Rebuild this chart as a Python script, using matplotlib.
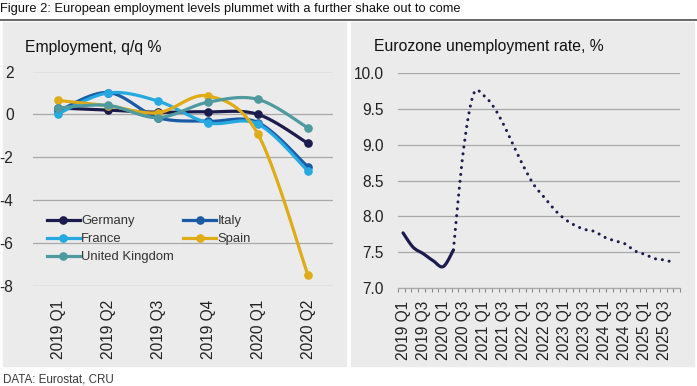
import numpy as np
import matplotlib
matplotlib.use("Agg")
import matplotlib.pyplot as plt
from matplotlib.patches import Rectangle
from matplotlib.lines import Line2D
from matplotlib.ticker import FixedLocator

plt.rcParams["font.family"] = ["Liberation Sans", "DejaVu Sans"]
plt.rcParams["axes.unicode_minus"] = False

# left chart: employment, q/q %
quarters = ["2019 Q1", "2019 Q2", "2019 Q3", "2019 Q4", "2020 Q1", "2020 Q2"]
germany = [0.30, 0.20, 0.10, 0.12, 0.00, -1.35]
italy = [0.15, 1.02, -0.15, -0.32, -0.38, -2.45]
france = [0.03, 1.00, 0.62, -0.39, -0.45, -2.64]
spain = [0.65, 0.40, 0.08, 0.86, -0.93, -7.50]
uk = [0.30, 0.42, -0.15, 0.57, 0.70, -0.63]

# right chart: eurozone unemployment rate, %
ez_quarters = [f"{y} Q{q}" for y in range(2019, 2026) for q in range(1, 5)]
ez_actual = [7.77, 7.57, 7.48, 7.38, 7.30, 7.53]
ez_forecast = [7.53, 8.93, 9.71, 9.69, 9.53, 9.28, 8.98, 8.69, 8.44, 8.27,
               8.10, 7.97, 7.88, 7.82, 7.79, 7.71, 7.66, 7.62, 7.52, 7.47,
               7.41, 7.39, 7.35]

series = [("Germany", germany, "#1c1b4d"), ("Italy", italy, "#1a5ba6"),
          ("France", france, "#25a9e0"), ("Spain", spain, "#dfab17"),
          ("United Kingdom", uk, "#4e9a9f")]


def smooth(x, y, n=24):
    # excel style smoothed line (bezier through the points)
    x = np.asarray(x, float)
    y = np.asarray(y, float)
    px = np.r_[x[0], x, x[-1]]
    py = np.r_[y[0], y, y[-1]]
    t = np.linspace(0, 1, n)[:, None]
    out = []
    for i in range(len(x) - 1):
        p0 = np.array([px[i], py[i]])
        p1 = np.array([px[i + 1], py[i + 1]])
        p2 = np.array([px[i + 2], py[i + 2]])
        p3 = np.array([px[i + 3], py[i + 3]])
        c1 = p1 + (p2 - p0) / 6
        c2 = p2 - (p3 - p1) / 6
        b = (1 - t) ** 3 * p1 + 3 * (1 - t) ** 2 * t * c1 + 3 * (1 - t) * t ** 2 * c2 + t ** 3 * p2
        out.append(b if i == 0 else b[1:])
    b = np.vstack(out)
    return b[:, 0], b[:, 1]


W, H = 697, 386
fig = plt.figure(figsize=(W / 100, H / 100), dpi=100)


def fx(px):
    return px / W


def fy(py):
    return 1 - py / H


# figure title and rule
fig.text(0, fy(9), "Figure 2: European employment levels plummet with a further shake out to come",
         fontsize=9.3, va="center", ha="left", color="#111111")
fig.add_artist(Line2D([0, 1], [fy(19.8), fy(19.8)], color="#5a5a5a", lw=1.3))

# grey panels
panel = "#ebebeb"
fig.add_artist(Rectangle((fx(3), fy(366)), fx(343), (366 - 22) / H, color=panel, zorder=0))
fig.add_artist(Rectangle((fx(351), fy(366)), fx(343), (366 - 22) / H, color=panel, zorder=0))

fig.text(fx(3), fy(379), "DATA: Eurostat, CRU", fontsize=8.4, va="center", ha="left", color="#3a3a3a")

grid_c = "#a9a9a9"

# ---- left panel
ax = fig.add_axes([fx(33), fy(286), fx(300), (286 - 71.5) / H])
ax.set_facecolor("none")
x = np.arange(len(quarters))
for name, vals, col in series:
    sx, sy = smooth(x, vals)
    ax.plot(sx, sy, color=col, lw=2.3, solid_capstyle="round")
    ax.plot(x, vals, "o", color=col, ms=5.2)
ax.set_xlim(-0.5, len(quarters) - 0.5)
ax.set_ylim(-8, 2)
ax.set_yticks([-8, -6, -4, -2, 0, 2])
ax.set_xticks(x)
ax.set_xticklabels(quarters, rotation=90)
ax.grid(axis="y", color=grid_c, lw=0.9)
ax.set_axisbelow(True)
for s in ax.spines.values():
    s.set_visible(False)
ax.tick_params(length=0, labelsize=11.2, colors="#222222")
ax.tick_params(axis="y", pad=14)
ax.tick_params(axis="x", pad=10)
fig.text(fx(25), fy(47.5), "Employment, q/q %", fontsize=11.3, va="center", ha="left", color="#111111")

handles = [Line2D([], [], color=c, lw=2.3, marker="o", ms=5.2) for _, _, c in series]
order = [0, 2, 4, 1, 3]
ax.legend([handles[i] for i in order], [series[i][0] for i in order], ncol=2,
          loc="upper left", bbox_to_anchor=(fx(47), fy(215)), bbox_transform=fig.transFigure,
          frameon=False, fontsize=9.4, handlelength=2.5, handletextpad=0.1,
          columnspacing=0.75, labelspacing=0.45, borderpad=0, borderaxespad=0,
          numpoints=1, labelcolor="#333333")

# ---- right panel
ax2 = fig.add_axes([fx(398), fy(288), fx(282), (288 - 73.3) / H])
ax2.set_facecolor("none")
n_act = len(ez_actual)
xa = np.arange(n_act)
xf = np.arange(n_act - 1, n_act - 1 + len(ez_forecast))
sx, sy = smooth(xa, ez_actual)
ax2.plot(sx, sy, color="#1c1b4d", lw=2.3, solid_capstyle="round")
sx, sy = smooth(xf, ez_forecast)
ax2.plot(sx, sy, color="#1c1b4d", lw=2.2, linestyle=(0, (0.01, 2.25)), dash_capstyle="round")
ax2.set_xlim(-0.5, len(ez_quarters) - 0.5)
ax2.set_ylim(7, 10)
ax2.set_yticks(np.arange(7, 10.01, 0.5))
ax2.set_yticklabels([f"{v:.1f}" for v in np.arange(7, 10.01, 0.5)])
lab_x = np.arange(0, len(ez_quarters), 2)
ax2.set_xticks(lab_x)
ax2.set_xticklabels([ez_quarters[i] for i in lab_x], rotation=90)
ax2.xaxis.set_minor_locator(FixedLocator(np.arange(-0.5, len(ez_quarters) - 0.4, 2 / 3)))
ax2.grid(axis="y", color=grid_c, lw=0.9)
ax2.set_axisbelow(True)
for k in ["top", "right", "left"]:
    ax2.spines[k].set_visible(False)
ax2.spines["bottom"].set_color(grid_c)
ax2.spines["bottom"].set_linewidth(0.9)
ax2.tick_params(axis="x", which="major", length=0, labelsize=11.2, colors="#222222", pad=9)
ax2.tick_params(axis="x", which="minor", length=3, width=0.8, color="#8a8a8a")
ax2.tick_params(axis="y", length=0, labelsize=11.2, colors="#222222", pad=10)
fig.text(fx(374), fy(47), "Eurozone unemployment rate, %", fontsize=11.3, va="center", ha="left", color="#111111")

fig.savefig("out.png", dpi=100)
